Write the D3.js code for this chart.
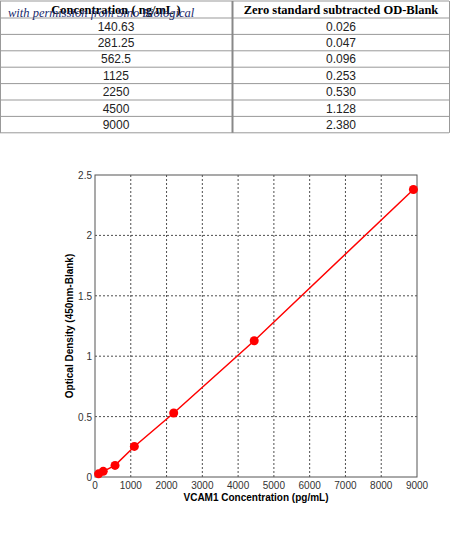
<!DOCTYPE html>
<html><head><meta charset="utf-8">
<script src="https://cdn.jsdelivr.net/npm/d3@7"></script>
<style>
body{margin:0;background:#fff;}
svg text{font-family:"Liberation Sans",Arial,sans-serif;}
</style></head>
<body><svg id="c" width="450" height="536"></svg>
<script>
// table data
const concLabels = ['140.63','281.25','562.5','1125','2250','4500','9000'];
const odLabels = ['0.026','0.047','0.096','0.253','0.530','1.128','2.380'];
// chart points as plotted
const plotConc = [100, 230, 560, 1100, 2200, 4450, 8900];
const plotOD = [0.026, 0.047, 0.096, 0.253, 0.530, 1.128, 2.380];
const xTicks = [0,1000,2000,3000,4000,5000,6000,7000,8000,9000];
const yTicks = [0,0.5,1,1.5,2,2.5];

const svg = d3.select('#c');

// table
const colX = [0, 232, 449];
const rowH = 16.4, tTop = 1;
const tbl = svg.append('g');
for (let i = 0; i <= 8; i++) {
  const yy = tTop + (i === 0 ? 0 : 17 + (i - 1) * rowH);
  tbl.append('line').attr('x1', 0).attr('x2', 449).attr('y1', yy).attr('y2', yy)
    .attr('stroke', '#999').attr('stroke-width', 1);
}
const tblBottom = tTop + 17 + 7 * rowH;
colX.forEach((cx, i) => {
  tbl.append('line').attr('x1', cx + 0.5).attr('x2', cx + 0.5).attr('y1', tTop).attr('y2', tblBottom)
    .attr('stroke', i === 1 ? '#888' : '#999').attr('stroke-width', i === 1 ? 2 : 1);
});
tbl.append('text').attr('x', 116).attr('y', tTop + 13).attr('text-anchor', 'middle')
  .style('font-family', '"Liberation Serif",serif').style('font-weight', 'bold').style('font-size', '12.5px')
  .text('Concentration ( ng/mL )');
tbl.append('text').attr('x', 341).attr('y', tTop + 13).attr('text-anchor', 'middle')
  .style('font-family', '"Liberation Serif",serif').style('font-weight', 'bold').style('font-size', '12.5px')
  .text('Zero standard subtracted OD-Blank');
tbl.append('text').attr('x', 8).attr('y', tTop + 16)
  .style('font-family', '"Liberation Serif",serif').style('font-style', 'italic').style('font-size', '12.5px')
  .attr('fill', '#1a2a6c').text('with permission from Sino Biological');
concLabels.forEach((c, i) => {
  const yy = tTop + 17 + i * rowH + 12.5;
  tbl.append('text').attr('x', 116).attr('y', yy).attr('text-anchor', 'middle')
    .style('font-size', '12px').attr('fill', '#222').text(c);
  tbl.append('text').attr('x', 341).attr('y', yy).attr('text-anchor', 'middle')
    .style('font-size', '12px').attr('fill', '#222').text(odLabels[i]);
});

// chart
const m = {left: 95, top: 175, right: 417, bottom: 477};
const x = d3.scaleLinear().domain([0, 9000]).range([m.left, m.right]);
const y = d3.scaleLinear().domain([0, 2.5]).range([m.bottom, m.top]);
const g = svg.append('g');

g.selectAll('.gx').data(xTicks.slice(1, -1)).join('line')
  .attr('x1', d => x(d)).attr('x2', d => x(d)).attr('y1', m.top).attr('y2', m.bottom)
  .attr('stroke', '#222').attr('stroke-dasharray', '2,2').attr('stroke-width', 0.8);
g.selectAll('.gy').data(yTicks.slice(1, -1)).join('line')
  .attr('y1', d => y(d)).attr('y2', d => y(d)).attr('x1', m.left).attr('x2', m.right)
  .attr('stroke', '#222').attr('stroke-dasharray', '2,2').attr('stroke-width', 0.8);
g.append('rect').attr('x', m.left).attr('y', m.top).attr('width', m.right - m.left).attr('height', m.bottom - m.top)
  .attr('fill', 'none').attr('stroke', '#555');

g.selectAll('.xt').data(xTicks).join('text')
  .attr('x', d => x(d)).attr('y', m.bottom + 12).attr('text-anchor', 'middle')
  .style('font-size', '10px').attr('fill', '#333').text(d => d);
g.selectAll('.yt').data(yTicks).join('text')
  .attr('x', m.left - 3).attr('y', d => y(d) + 4).attr('text-anchor', 'end')
  .style('font-size', '10px').attr('fill', '#333').text(d => d);

g.append('text').attr('x', (m.left + m.right) / 2).attr('y', m.bottom + 24).attr('text-anchor', 'middle')
  .style('font-size', '10px').style('font-weight', 'bold').text('VCAM1 Concentration (pg/mL)');
g.append('text').attr('transform', `translate(73,${(m.top + m.bottom) / 2}) rotate(-90)`).attr('text-anchor', 'middle')
  .style('font-size', '10px').style('font-weight', 'bold').text('Optical Density (450nm-Blank)');

const pts = plotConc.map((c, i) => [c, plotOD[i]]);
g.append('path').datum(pts)
  .attr('d', d3.line().x(d => x(d[0])).y(d => y(d[1])))
  .attr('fill', 'none').attr('stroke', 'red').attr('stroke-width', 1.5);
g.selectAll('.pt').data(pts).join('circle')
  .attr('cx', d => x(d[0])).attr('cy', d => y(d[1])).attr('r', 4.5).attr('fill', 'red');
</script></body></html>
